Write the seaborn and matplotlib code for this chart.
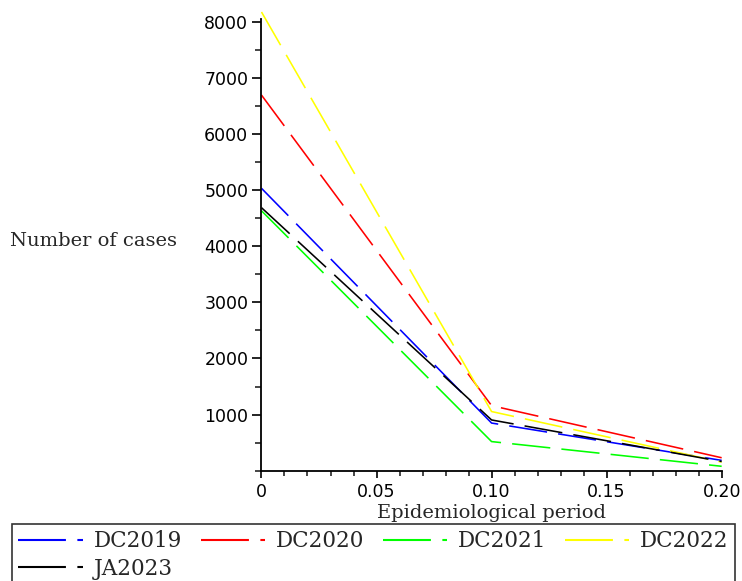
import numpy as np
import pandas as pd
import matplotlib
matplotlib.use("Agg")
import matplotlib.pyplot as plt
import seaborn as sns
from matplotlib.lines import Line2D
from matplotlib.ticker import MultipleLocator, FixedLocator

# values
period = [0.0, 0.10, 0.20]
series_names = ["DC2019", "DC2020", "DC2021", "DC2022", "JA2023"]
dc2019 = [5030, 850, 185]
dc2020 = [6690, 1160, 232]
dc2021 = [4630, 520, 80]
dc2022 = [8170, 1055, 155]
ja2023 = [4685, 905, 165]
colors = ["#0000ff", "#ff0000", "#00ff00", "#ffff00", "#000000"]
ytick_vals = [1000, 2000, 3000, 4000, 5000, 6000, 7000, 8000]
xtick_vals = [0, 0.05, 0.10, 0.15, 0.20]
xtick_text = ["0", "0.05", "0.10", "0.15", "0.20"]

all_values = [dc2019, dc2020, dc2021, dc2022, ja2023]
df = pd.DataFrame({
    "period": period * len(series_names),
    "cases": [v for vals in all_values for v in vals],
    "series": [n for n in series_names for _ in period],
})

sns.set_style("ticks")
plt.rcParams["font.family"] = ["DejaVu Sans"]

fig = plt.figure(figsize=(7.42, 5.81), dpi=100)
ax = fig.add_axes([0.3524, 0.1897, 0.6202, 0.7926])

sns.lineplot(data=df, x="period", y="cases", hue="series", style="series",
             palette=dict(zip(series_names, colors)),
             dashes={n: (24, 7) for n in series_names},
             hue_order=series_names, style_order=series_names,
             legend=False, lw=1.15, ax=ax)

ax.set_xlim(0, 0.20)
ax.set_ylim(0, 8200)
ax.xaxis.set_major_locator(FixedLocator(xtick_vals))
ax.set_xticklabels(xtick_text)
ax.xaxis.set_minor_locator(MultipleLocator(0.01))
ax.yaxis.set_major_locator(FixedLocator(ytick_vals))
ax.yaxis.set_minor_locator(MultipleLocator(500))

for s in ["top", "right"]:
    ax.spines[s].set_visible(False)
ax.spines["left"].set_bounds(0, 8050)
for s in ["left", "bottom"]:
    ax.spines[s].set_linewidth(1.3)
    ax.spines[s].set_color("black")

ax.tick_params(axis="y", which="major", length=6.5, width=1.2, labelsize=12.5, pad=3, colors="black")
ax.tick_params(axis="y", which="minor", length=4.5, width=1.2)
ax.tick_params(axis="x", which="major", length=5, width=1.2, labelsize=12.5, pad=4, colors="black")
ax.tick_params(axis="x", which="minor", length=3.5, width=1.2)

ax.set_ylabel("")
ax.set_xlabel("Epidemiological period", family="DejaVu Serif", fontsize=14, labelpad=2)
fig.text(10 / 742, 1 - 241 / 581, "Number of cases", family="DejaVu Serif",
         fontsize=14, ha="left", va="center")

# legend filled row by row like the reference: DC2019..DC2022 then JA2023
leg_order = [0, 4, 1, 2, 3]
handles = [Line2D([], [], color=colors[i], lw=1.5, linestyle=(0, (23, 5.5, 3, 20)))
           for i in leg_order]
labels = [series_names[i] for i in leg_order]
leg = fig.legend(handles, labels, loc="upper left", ncol=4,
                 bbox_to_anchor=(12 / 742, 0, 723 / 742, 1 - 524 / 581),
                 mode="expand", borderaxespad=0, frameon=True, fancybox=False,
                 edgecolor="black", handlelength=3.0, handletextpad=0.5,
                 borderpad=0.3, labelspacing=0.25,
                 prop={"family": "DejaVu Serif", "size": 15.5})
leg.get_frame().set_linewidth(1.2)

fig.savefig("out.png", dpi=100)
